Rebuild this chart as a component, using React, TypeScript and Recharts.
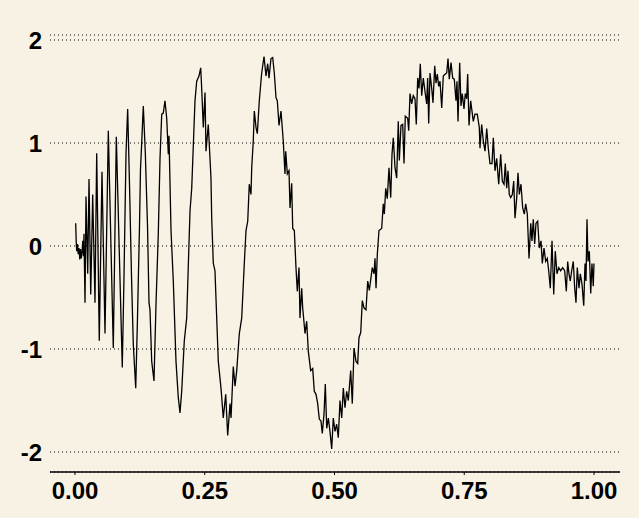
import React from "react";
import { LineChart, Line, XAxis, YAxis, CartesianGrid } from "recharts";

// [x, y] readings of the noisy chirp, grouped by region
const segOnset: [number, number][] = [
  [0.0013, 0.22], [0.0023, 0.05], [0.0033, -0.05], [0.0048, 0.02], [0.0062, -0.08],
  [0.0077, -0.02], [0.0092, -0.13], [0.0106, -0.03], [0.0121, -0.12], [0.0135, -0.06],
  [0.015, 0.05], [0.0164, -0.1], [0.0173, 0.12], [0.0193, -0.55], [0.0212, 0.48],
  [0.0245, -0.27], [0.027, 0.65], [0.0303, -0.47], [0.0341, 0.5], [0.0385, -0.55],
  [0.0418, 0.9], [0.0468, -0.92], [0.052, 0.72], [0.0578, -0.85], [0.0642, 1.12],
  [0.0738, -0.99], [0.0796, 1.06], [0.0911, -1.18], [0.0944, -0.3], [0.0983, 0.9],
  [0.1015, 1.33], [0.105, 0.6], [0.1089, -0.3], [0.1123, -0.95], [0.117, -1.38],
  [0.1204, -0.7], [0.1243, 0.2], [0.1262, 0.75], [0.1281, 0.95], [0.1316, 1.36],
  [0.1355, 0.9], [0.1397, 0.2], [0.1426, -0.55], [0.1445, -0.62], [0.1478, -1.12],
  [0.1522, -1.31],
];

const segEarlyCycles: [number, number][] = [
  [0.1561, -0.56], [0.1605, 0.12], [0.1638, 0.85], [0.1671, 1.28], [0.1701, 1.29],
  [0.1734, 1.41], [0.1767, 1.24], [0.1798, 0.89], [0.1811, 1.07], [0.185, 0.15],
  [0.1894, -0.34], [0.1946, -1.12], [0.199, -1.47], [0.2023, -1.62], [0.2056, -1.41],
  [0.2106, -0.92], [0.2152, -0.7], [0.2216, 0.34], [0.2249, 0.56], [0.2312, 1.41],
  [0.2345, 1.6], [0.2389, 1.65], [0.2422, 1.73], [0.2441, 1.53], [0.2472, 1.15],
  [0.2505, 1.49], [0.2524, 0.92], [0.2568, 1.18], [0.262, 0.66], [0.2634, 0.27],
  [0.2665, -0.17], [0.2697, -0.24], [0.2761, -1.12], [0.2813, -1.38], [0.2857, -1.67],
  [0.2904, -1.44], [0.2942, -1.84], [0.2987, -1.53], [0.3006, -1.67], [0.305, -1.17],
  [0.3083, -1.36], [0.3116, -1.21], [0.3166, -0.85], [0.3212, -0.7], [0.3262, -0.17],
  [0.3295, 0.15], [0.3328, 0.24], [0.3358, 0.6], [0.3391, 0.5], [0.3405, 0.76],
  [0.3435, 1.02], [0.3455, 1.31], [0.3488, 1.15], [0.3513, 1.09], [0.3551, 1.41],
  [0.3597, 1.68], [0.3642, 1.84], [0.368, 1.65], [0.3713, 1.77], [0.3738, 1.63],
  [0.3776, 1.82], [0.3809, 1.83], [0.384, 1.68], [0.3873, 1.44], [0.3898, 1.41],
  [0.3931, 1.17], [0.3969, 1.31], [0.4013, 1.02], [0.4046, 0.7], [0.406, 0.92],
  [0.4091, 0.7], [0.4123, 0.73], [0.4143, 0.37], [0.4175, 0.61], [0.4195, 0.17],
  [0.4226, 0.15], [0.4258, -0.21], [0.4283, -0.44], [0.4316, -0.21], [0.4335, -0.7],
  [0.4368, -0.41], [0.4387, -0.6], [0.4432, -0.85], [0.4464, -0.73], [0.4495, -1.02],
  [0.4541, -1.21], [0.458, -1.19], [0.4611, -1.41], [0.4644, -1.44], [0.4676, -1.53],
  [0.4707, -1.68], [0.474, -1.7], [0.4765, -1.82], [0.4798, -1.63], [0.4823, -1.34],
  [0.485, -1.77], [0.4881, -1.67], [0.4913, -1.8], [0.4946, -1.97], [0.4977, -1.67],
  [0.501, -1.8], [0.5042, -1.73], [0.5073, -1.86], [0.5106, -1.5], [0.5139, -1.67],
  [0.517, -1.38], [0.5202, -1.57], [0.5235, -1.41], [0.5266, -1.5], [0.5312, -1.21],
  [0.5343, -1.53], [0.5376, -0.99], [0.5414, -1.12], [0.5447, -1.14], [0.5472, -0.89],
  [0.5505, -0.84], [0.5536, -0.53], [0.5568, -0.6], [0.5607, -0.62], [0.564, -0.34],
  [0.5671, -0.43], [0.5728, -0.21], [0.5761, -0.27], [0.578, -0.12], [0.58, -0.41],
  [0.5825, -0.08],
];

const segRiseAndPeak: [number, number][] = [
  [0.5857, 0.15], [0.5909, 0.17], [0.594, 0.41], [0.596, 0.31], [0.5987, 0.56],
  [0.6017, 0.46], [0.605, 0.76], [0.6083, 0.47], [0.6108, 0.89], [0.6133, 1.05],
  [0.6166, 0.76], [0.6198, 0.66], [0.6229, 1.21], [0.6249, 0.83], [0.6281, 1.17],
  [0.6314, 1.18], [0.6339, 0.8], [0.6364, 1.26], [0.641, 1.24], [0.643, 1.12],
  [0.6455, 1.48], [0.6487, 1.38], [0.6518, 1.46], [0.6551, 1.43], [0.6576, 1.18],
  [0.6603, 1.63], [0.6628, 1.53], [0.6653, 1.77], [0.668, 1.46], [0.6711, 1.63],
  [0.6744, 1.5], [0.6776, 1.38], [0.6795, 1.63], [0.6815, 1.19], [0.684, 1.68],
  [0.6873, 1.53], [0.6898, 1.39], [0.6931, 1.75], [0.6956, 1.58], [0.6981, 1.67],
  [0.7008, 1.55], [0.7033, 1.6], [0.7066, 1.34], [0.7096, 1.65], [0.7135, 1.67],
  [0.7162, 1.68], [0.7187, 1.82], [0.7212, 1.62], [0.7245, 1.78], [0.7277, 1.63],
  [0.7308, 1.62], [0.7341, 1.41], [0.736, 1.6], [0.738, 1.21], [0.7412, 1.78],
  [0.7437, 1.36], [0.7462, 1.48], [0.7495, 1.33], [0.752, 1.48], [0.7547, 1.43],
  [0.7566, 1.67], [0.7592, 1.17], [0.7624, 1.41],
];

const segTail: [number, number][] = [
  [0.7674, 1.21], [0.7707, 1.28], [0.7751, 1.28], [0.779, 1.15], [0.7803, 0.95],
  [0.7836, 1.18], [0.7867, 1.02], [0.79, 0.92], [0.7933, 1.14], [0.7963, 0.95],
  [0.7996, 0.8], [0.8035, 0.8], [0.806, 1.05], [0.8092, 0.73], [0.8125, 0.85],
  [0.8164, 0.6], [0.8202, 0.89], [0.8233, 0.63], [0.8266, 0.6], [0.8291, 0.8],
  [0.8318, 0.56], [0.8343, 0.73], [0.8368, 0.5], [0.8395, 0.47], [0.8426, 0.5],
  [0.8453, 0.63], [0.8478, 0.27], [0.8511, 0.47], [0.8536, 0.71], [0.8561, 0.5],
  [0.8593, 0.6], [0.8626, 0.37], [0.8657, 0.31], [0.8684, 0.41], [0.8715, 0.31],
  [0.8748, -0.12], [0.8781, 0.22], [0.8805, 0.05], [0.883, 0.26], [0.8857, 0.02],
  [0.8882, 0.22], [0.8915, 0.24], [0.8946, -0.02], [0.8979, 0.05], [0.9004, -0.17],
  [0.9037, -0.02], [0.9069, -0.15], [0.91, -0.12], [0.9127, -0.24], [0.9158, -0.41],
  [0.9191, 0.05], [0.9224, -0.47], [0.9254, -0.05], [0.9287, -0.27], [0.932, -0.21],
  [0.9358, -0.24], [0.9397, -0.21], [0.9435, -0.24], [0.9467, -0.44], [0.9493, -0.15],
  [0.9518, -0.27], [0.9543, -0.34], [0.957, -0.24], [0.9601, -0.15], [0.9628, -0.41],
  [0.9653, -0.55], [0.9678, -0.21], [0.9711, -0.41], [0.9736, -0.27], [0.9769, -0.37],
  [0.9802, -0.58], [0.9827, -0.17], [0.9846, -0.34], [0.9865, 0.26], [0.9884, -0.15],
  [0.991, -0.05], [0.9937, -0.46], [0.9961, -0.17], [0.9986, -0.39], [1.0, -0.17],
];

const xTicks = [0, 0.25, 0.5, 0.75, 1];
const yTicks = [-2, -1, 0, 1, 2];

const data = [...segOnset, ...segEarlyCycles, ...segRiseAndPeak, ...segTail].map(
  ([x, y]) => ({ x, y })
);

const BG = "#f8f2e4";
const tickStyle = {
  fontFamily: "'Liberation Sans', Arial, Helvetica, sans-serif",
  fontWeight: 700,
  fontSize: 24,
  fill: "#000",
};

export default function App() {
  return (
    <div
      style={{
        position: "absolute",
        left: 0,
        top: 0,
        width: 639,
        height: 518,
        background: BG,
      }}
    >
      <LineChart
        width={639}
        height={518}
        data={data}
        margin={{ top: 35, right: 19, bottom: 0, left: 0 }}
      >
        <CartesianGrid
          vertical={false}
          horizontal={true}
          stroke="#000"
          strokeWidth={1}
          strokeDasharray="1 3"
        />
        <XAxis
          dataKey="x"
          type="number"
          domain={[-0.04817, 1.0501]}
          allowDataOverflow
          ticks={xTicks}
          interval={0}
          tickFormatter={(v: number) => v.toFixed(2)}
          height={46}
          tickSize={3}
          tickMargin={7}
          axisLine={{ stroke: "#000", strokeWidth: 1.5 }}
          tickLine={{ stroke: "#000", strokeWidth: 1 }}
          tick={tickStyle}
        />
        <YAxis
          type="number"
          domain={[-2.194, 2.0485]}
          allowDataOverflow
          ticks={yTicks}
          interval={0}
          width={50}
          axisLine={false}
          tickLine={false}
          tick={tickStyle}
        />
        <Line
          type="linear"
          dataKey="y"
          stroke="#000"
          strokeWidth={1.3}
          dot={false}
          isAnimationActive={false}
        />
      </LineChart>
    </div>
  );
}
